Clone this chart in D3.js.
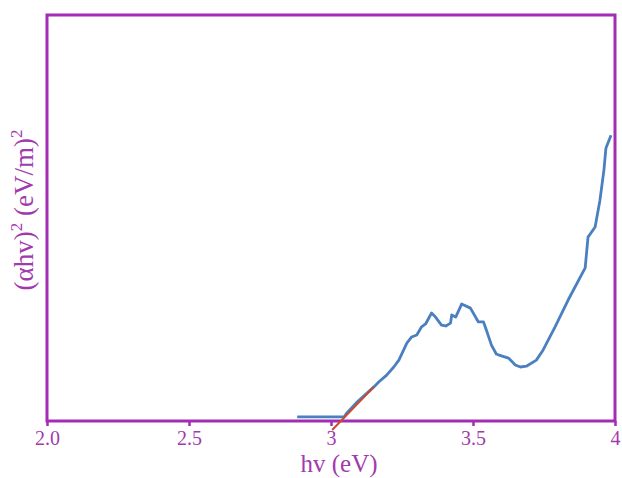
<!DOCTYPE html>
<meta charset="utf-8">
<style>
  body { margin: 0; background: #fff; }
  svg { display: block; }
  text { font-family: "Liberation Serif", "Times New Roman", serif; }
</style>
<body>
<script src="https://d3js.org/d3.v7.min.js"></script>
<script>
// photon energy (eV) and (ahv)^2 in arbitrary units
const hv = [2.881, 3.046, 3.056, 3.088, 3.151, 3.168, 3.196, 3.221, 3.239, 3.267,
  3.284, 3.302, 3.319, 3.333, 3.354, 3.368, 3.389, 3.404, 3.421, 3.425, 3.439,
  3.460, 3.491, 3.519, 3.537, 3.547, 3.565, 3.582, 3.589, 3.625, 3.649, 3.667,
  3.688, 3.723, 3.747, 3.789, 3.835, 3.895, 3.905, 3.930, 3.947, 3.961, 3.968, 3.986];
const absorb = [1.0, 1.0, 2.0, 4.4, 8.4, 9.6, 11.3, 13.3, 15.0, 19.2,
  20.7, 21.2, 23.2, 23.9, 26.6, 25.6, 23.6, 23.4, 24.1, 26.1, 25.6,
  28.8, 27.8, 24.4, 24.4, 22.4, 18.7, 16.5, 16.3, 15.5, 13.8, 13.3,
  13.5, 15.0, 17.5, 23.2, 29.8, 37.7, 45.3, 47.8, 54.4, 61.8, 67.2, 70.4];
// linear fit (Tauc extrapolation)
const fitHv = [3.004, 3.151];
const fitVal = [-2.2, 8.4];

const xTicks = [2.0, 2.5, 3, 3.5, 4];
const xTickLabels = ['2.0', '2.5', '3', '3.5', '4'];

const purple = '#a22cb4';
const textPurple = '#a23aae';

const margin = {top: 15, right: 7, bottom: 57, left: 47};
const width = 622 - margin.left - margin.right;
const height = 478 - margin.top - margin.bottom;

const svg = d3.select('body').append('svg')
  .attr('width', 622)
  .attr('height', 478);

const g = svg.append('g')
  .attr('transform', `translate(${margin.left},${margin.top})`);

const x = d3.scaleLinear().domain([2, 4]).range([0, width]);
const y = d3.scaleLinear().domain([0, 100]).range([height, 0]);

// frame
g.append('rect')
  .attr('width', width)
  .attr('height', height)
  .attr('fill', 'none')
  .attr('stroke', purple)
  .attr('stroke-width', 3);

const xAxis = g.append('g')
  .attr('transform', `translate(0,${height})`)
  .call(d3.axisBottom(x)
    .tickValues(xTicks)
    .tickFormat((d, i) => xTickLabels[i])
    .tickSize(5)
    .tickPadding(5));
xAxis.select('.domain').remove();
xAxis.selectAll('line').attr('stroke', purple).attr('stroke-width', 2.5);
xAxis.selectAll('text')
  .attr('fill', textPurple)
  .style('font-size', '20px');

const line = d3.line().x(d => x(d[0])).y(d => y(d[1]));

g.append('path')
  .datum(hv.map((d, i) => [d, absorb[i]]))
  .attr('d', line)
  .attr('fill', 'none')
  .attr('stroke', '#4a7fc0')
  .attr('stroke-width', 2.8)
  .attr('stroke-linejoin', 'round');

g.append('path')
  .datum(fitHv.map((d, i) => [d, fitVal[i]]))
  .attr('d', line)
  .attr('fill', 'none')
  .attr('stroke', '#cc4a2a')
  .attr('stroke-width', 2);

// axis titles
svg.append('text')
  .attr('x', 339)
  .attr('y', 472)
  .attr('text-anchor', 'middle')
  .attr('fill', textPurple)
  .style('font-size', '25px')
  .text('hv (eV)');

const yt = svg.append('text')
  .attr('transform', 'translate(33,210) rotate(-90)')
  .attr('text-anchor', 'middle')
  .attr('fill', textPurple)
  .style('font-size', '27px');
yt.append('tspan').text('(αhv)');
yt.append('tspan').attr('dy', -11).style('font-size', '17px').text('2');
yt.append('tspan').attr('dy', 11).text(' (eV/m)');
yt.append('tspan').attr('dy', -11).style('font-size', '17px').text('2');
</script>
</body>
</html>
